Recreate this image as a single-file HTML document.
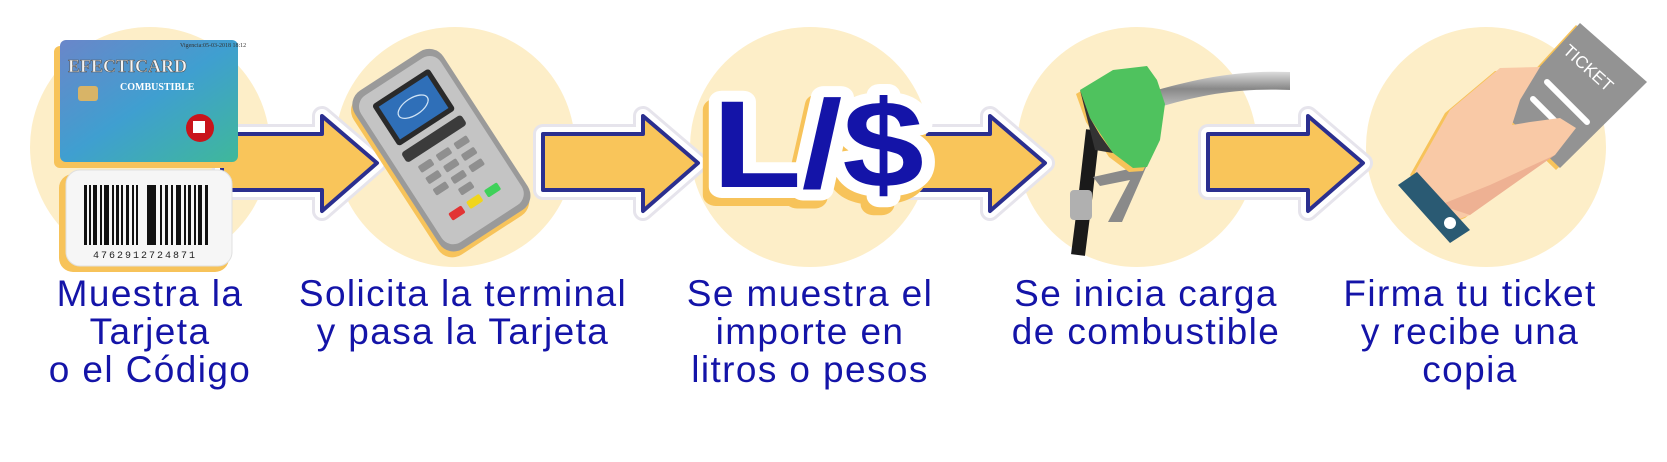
<!DOCTYPE html>
<html><head><meta charset="utf-8"><style>
html,body{margin:0;padding:0;background:#fff;width:1667px;height:462px;overflow:hidden}
svg{display:block}
.t{font-family:"Liberation Sans",sans-serif;font-size:37px;letter-spacing:1.4px;fill:#1414a8;text-anchor:middle}
</style></head><body>
<svg width="1667" height="462" viewBox="0 0 1667 462" xmlns="http://www.w3.org/2000/svg">
<defs>
<linearGradient id="card" x1="0" y1="0" x2="1" y2="1"><stop offset="0" stop-color="#6a86c9"/><stop offset="0.5" stop-color="#3f9fd0"/><stop offset="1" stop-color="#3fb89a"/></linearGradient>
<linearGradient id="metal" x1="0" y1="0" x2="0" y2="1"><stop offset="0" stop-color="#ddd"/><stop offset="0.5" stop-color="#888"/><stop offset="1" stop-color="#bbb"/></linearGradient>
<g id="arr"><path d="M0,-29 H100 V-47 L155,0 L100,48 V27 H0 Z"/></g>
</defs>
<g fill="#fdeec8">
<circle cx="150" cy="147" r="120"/><circle cx="455" cy="147" r="120"/><circle cx="810" cy="147" r="120"/><circle cx="1137" cy="147" r="120"/><circle cx="1486" cy="147" r="120"/>
</g>
<g stroke-linejoin="round">
<g transform="translate(222,163)"><use href="#arr" fill="#fff" stroke="#e6e4ec" stroke-width="20"/><use href="#arr" fill="#fff" stroke="#fff" stroke-width="14"/><use href="#arr" fill="#f9c55a" stroke="#2b2f8f" stroke-width="4"/></g>
<g transform="translate(543,163)"><use href="#arr" fill="#fff" stroke="#e6e4ec" stroke-width="20"/><use href="#arr" fill="#fff" stroke="#fff" stroke-width="14"/><use href="#arr" fill="#f9c55a" stroke="#2b2f8f" stroke-width="4"/></g>
<g transform="translate(890,163)"><use href="#arr" fill="#fff" stroke="#e6e4ec" stroke-width="20"/><use href="#arr" fill="#fff" stroke="#fff" stroke-width="14"/><use href="#arr" fill="#f9c55a" stroke="#2b2f8f" stroke-width="4"/></g>
<g transform="translate(1208,163)"><use href="#arr" fill="#fff" stroke="#e6e4ec" stroke-width="20"/><use href="#arr" fill="#fff" stroke="#fff" stroke-width="14"/><use href="#arr" fill="#f9c55a" stroke="#2b2f8f" stroke-width="4"/></g>
</g>
<!-- card -->
<rect x="54" y="46" width="178" height="122" rx="6" fill="#f7c35a"/>
<rect x="60" y="40" width="178" height="122" rx="6" fill="url(#card)"/>
<text x="68" y="72" font-family="Liberation Serif,serif" font-weight="bold" font-size="18" fill="#f4f4f4" stroke="#555" stroke-width="0.6">EFECTICARD</text>
<text x="180" y="47" font-family="Liberation Serif,serif" font-size="6" fill="#333">Vigencia:05-03-2018 18:12</text>
<text x="120" y="90" font-family="Liberation Serif,serif" font-weight="bold" font-size="10" fill="#fff">COMBUSTIBLE</text>
<rect x="78" y="86" width="20" height="15" rx="3" fill="#d8b467"/>
<circle cx="200" cy="128" r="14" fill="#c9141b"/><rect x="193" y="121" width="12" height="12" fill="#fff"/>
<!-- barcode -->
<rect x="59" y="174" width="170" height="98" rx="14" fill="#f7c35a"/>
<rect x="66" y="170" width="166" height="96" rx="14" fill="#f6f6f6" stroke="#e0e0e0"/>
<g fill="#111">
<rect x="84" y="185" width="3" height="60"/><rect x="89" y="185" width="2" height="60"/><rect x="93" y="185" width="4" height="60"/><rect x="100" y="185" width="2" height="60"/><rect x="104" y="185" width="5" height="60"/><rect x="112" y="185" width="2" height="60"/><rect x="116" y="185" width="3" height="60"/><rect x="121" y="185" width="2" height="60"/><rect x="126" y="185" width="3" height="60"/><rect x="132" y="185" width="2" height="60"/><rect x="136" y="185" width="2" height="60"/><rect x="147" y="185" width="9" height="60"/><rect x="160" y="185" width="2" height="60"/><rect x="165" y="185" width="3" height="60"/><rect x="171" y="185" width="2" height="60"/><rect x="176" y="185" width="5" height="60"/><rect x="184" y="185" width="2" height="60"/><rect x="188" y="185" width="3" height="60"/><rect x="194" y="185" width="2" height="60"/><rect x="198" y="185" width="4" height="60"/><rect x="205" y="185" width="3" height="60"/>
</g>
<text x="145" y="258" font-family="Liberation Mono,monospace" font-size="10" fill="#222" text-anchor="middle" letter-spacing="2">4762912724871</text>
<!-- POS terminal -->
<g transform="translate(440,148) rotate(-33) scale(0.85)">
<rect x="-62" y="-108" width="124" height="222" rx="20" fill="#f7c35a" transform="translate(-5,5)"/>
<rect x="-62" y="-108" width="124" height="222" rx="20" fill="#9a9a9a"/>
<rect x="-56" y="-100" width="112" height="206" rx="16" fill="#c4c4c4"/>
<rect x="-40" y="-86" width="80" height="58" rx="4" fill="#2a2a2a"/>
<rect x="-34" y="-80" width="68" height="46" fill="#2f6fb8"/>
<ellipse cx="0" cy="-58" rx="20" ry="10" fill="none" stroke="#cfe3f5" stroke-width="1.5"/>
<rect x="-42" y="-20" width="84" height="14" rx="4" fill="#3b3b3b"/>
<g fill="#8f8f8f"><rect x="-34" y="4" width="18" height="9" rx="2"/><rect x="-9" y="4" width="18" height="9" rx="2"/><rect x="16" y="4" width="18" height="9" rx="2"/><rect x="-34" y="20" width="18" height="9" rx="2"/><rect x="-9" y="20" width="18" height="9" rx="2"/><rect x="16" y="20" width="18" height="9" rx="2"/><rect x="-34" y="36" width="18" height="9" rx="2"/><rect x="-9" y="36" width="18" height="9" rx="2"/><rect x="16" y="36" width="18" height="9" rx="2"/><rect x="-9" y="52" width="18" height="9" rx="2"/></g>
<rect x="-34" y="70" width="18" height="10" rx="2" fill="#e23434"/><rect x="-9" y="70" width="18" height="10" rx="2" fill="#f0d51d"/><rect x="16" y="70" width="18" height="10" rx="2" fill="#3fd15a"/>
</g>
<!-- L/$ -->
<text x="712" y="187" font-family="Liberation Sans,sans-serif" font-weight="bold" font-size="124" textLength="212" lengthAdjust="spacingAndGlyphs" fill="#f7c35a" stroke="#f7c35a" stroke-width="22" stroke-linejoin="round" transform="translate(-6,8)">L/$</text>
<text x="712" y="187" font-family="Liberation Sans,sans-serif" font-weight="bold" font-size="124" textLength="212" lengthAdjust="spacingAndGlyphs" fill="#fff" stroke="#fff" stroke-width="22" stroke-linejoin="round">L/$</text>
<text x="712" y="187" font-family="Liberation Sans,sans-serif" font-weight="bold" font-size="124" textLength="212" lengthAdjust="spacingAndGlyphs" fill="#1414a8">L/$</text>
<!-- nozzle -->
<path d="M1093,130 L1085,200 L1078,255" stroke="#1a1a1a" stroke-width="14" fill="none"/>
<rect x="1070" y="190" width="22" height="30" rx="4" fill="#b0b0b0"/>
<path d="M1157,90 C1200,78 1240,70 1290,72 L1290,90 C1240,88 1205,94 1163,106 Z" fill="url(#metal)"/>
<path d="M1093,177 L1147,165 L1122,222 L1108,222 L1130,180 L1100,186 Z" fill="#8a8a8a"/>
<path d="M1080,90 L1113,70 L1147,66 L1157,80 L1165,104 L1160,140 L1147,167 L1133,168 L1113,153 L1090,118 Z" fill="#f7c35a" transform="translate(-4,4)"/>
<path d="M1080,90 L1113,70 L1147,66 L1157,80 L1165,104 L1160,140 L1147,167 L1133,168 L1113,153 L1090,118 Z" fill="#4fc25e"/>
<path d="M1113,153 L1100,135 L1090,118 L1080,90 L1095,150 Z" fill="#333"/>
<!-- hand & ticket -->
<path d="M1580,23 L1647,82 L1560,168 L1500,110 Z" fill="#f7c35a" transform="translate(-4,2)"/>
<path d="M1580,23 L1647,82 L1560,168 L1500,110 Z" fill="#939393"/>
<text x="0" y="0" font-family="Liberation Sans,sans-serif" font-size="17" fill="#fff" transform="translate(1562,52) rotate(42)">TICKET</text>
<path d="M1547,82 L1587,122 M1533,99 L1562,128" stroke="#fff" stroke-width="6" stroke-linecap="round"/>
<path d="M1415,172 L1450,110 L1500,68 L1540,67 L1520,100 L1512,125 L1530,122 L1560,118 L1576,128 L1555,155 L1520,175 L1470,215 L1452,222 Z" fill="#f7c35a" transform="translate(-5,3)"/>
<path d="M1415,172 L1450,110 L1500,68 L1540,67 L1520,100 L1512,125 L1530,122 L1560,118 L1576,128 L1555,155 L1520,175 L1470,215 L1452,222 Z" fill="#f9c9a6"/>
<path d="M1440,205 L1490,185 L1555,155 L1470,215 Z" fill="#eeb193"/>
<path d="M1398,185 L1417,172 L1470,230 L1450,243 Z" fill="#2a5a73"/>
<circle cx="1450" cy="223" r="6" fill="#fff"/>
<!-- labels -->
<text class="t" x="150" y="306">Muestra la</text>
<text class="t" x="150" y="344">Tarjeta</text>
<text class="t" x="150" y="382">o el Código</text>
<text class="t" x="463" y="306">Solicita la terminal</text>
<text class="t" x="463" y="344">y pasa la Tarjeta</text>
<text class="t" x="810" y="306">Se muestra el</text>
<text class="t" x="810" y="344">importe en</text>
<text class="t" x="810" y="382">litros o pesos</text>
<text class="t" x="1146" y="306">Se inicia carga</text>
<text class="t" x="1146" y="344">de combustible</text>
<text class="t" x="1470" y="306">Firma tu ticket</text>
<text class="t" x="1470" y="344">y recibe una</text>
<text class="t" x="1470" y="382">copia</text>
</svg>
</body></html>
